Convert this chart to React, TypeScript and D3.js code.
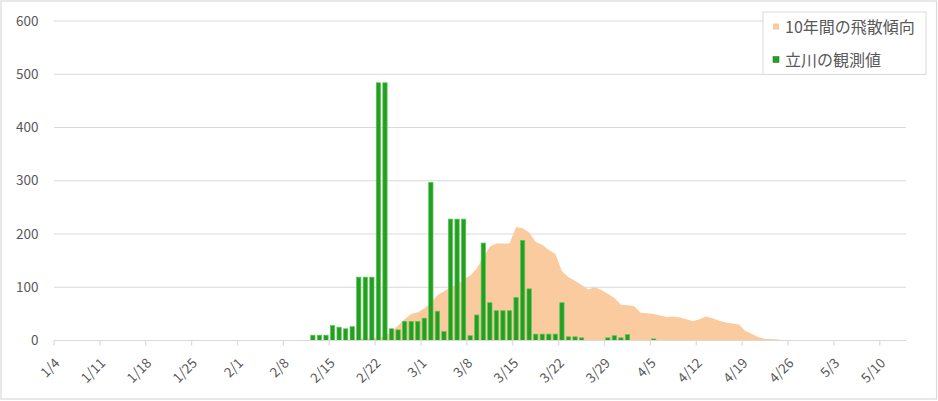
import React from "react";
import * as d3 from "d3";

// ---- data ----
const startDate = new Date(2019, 0, 4); // 1/4 (non-leap year: 2/22 + 7 = 3/1)
const dayCount = 130; // 1/4 .. 5/13

const tickLabels = [
  "1/4", "1/11", "1/18", "1/25", "2/1", "2/8", "2/15", "2/22", "3/1", "3/8",
  "3/15", "3/22", "3/29", "4/5", "4/12", "4/19", "4/26", "5/3", "5/10",
];
const yTicks = [0, 100, 200, 300, 400, 500, 600];

// 10年間の飛散傾向 (daily, starting 2/17)
const trendStart = "2/17";
const trendValues = [
  1, 2, 3, 4, 4, 5, 9, 16, 28, 40, 50, 53, 60, 71, 85, 92, 100, 105, 115, 122,
  135, 157, 176, 182, 182, 182, 213, 211, 203, 185, 180, 170, 163, 130, 119, 112,
  104, 96, 100, 95, 88, 80, 67, 66, 65, 52, 51, 50, 47, 44, 45, 43, 40, 36, 40,
  45, 42, 37, 34, 32, 30, 18, 12, 6, 3, 3, 2, 0,
];

// 立川の観測値 (daily, starting 2/12)
const obsStart = "2/12";
const obsValues: (number | null)[] = [
  10, 10, 10, 28, 25, 22, 26, 119, 119, 119, 484, 484, 22, 20, 36, 36, 36,
  42, 297, 55, 17, 228, 228, 228, 9, 48, 183, 71, 56, 56, 56, 81, 188, 97, 12,
  12, 12, 12, 71, 7, 7, 5, null, null, null, 5, 9, 5,
  11, null, null, null, 3,
];

const seriesNames = ["10年間の飛散傾向", "立川の観測値"];
const seriesColors = ["#FACB9E", "#22A022"];

// ---- derived ----
const fmt = d3.timeFormat("%-m/%-d");
const dates = d3.timeDay.range(startDate, d3.timeDay.offset(startDate, dayCount));
const keys = dates.map(fmt);

function seriesFrom(start: string, vals: (number | null)[]) {
  const m = new Map<string, number | null>();
  const i0 = keys.indexOf(start);
  vals.forEach((v, i) => m.set(keys[i0 + i], v));
  return m;
}
const trendMap = seriesFrom(trendStart, trendValues);
const obsMap = seriesFrom(obsStart, obsValues);

const W = 938;
const H = 401;
const left = 54;
const right = 906;
const yTop = 21;
const yBottom = 340.5;
const FONT = "'Noto Sans CJK JP', 'Noto Sans', sans-serif";
const TEXT = "#595959";
const GRID = "#D9D9D9";

export default function App() {
  const xStep = d3.scaleBand<string>().domain(keys).range([left, right]).padding(0);
  const xBar = d3
    .scaleBand<string>()
    .domain(keys)
    .range([left, right])
    .paddingInner(0.34)
    .paddingOuter(0.17);
  const y = d3.scaleLinear().domain([0, 600]).range([yBottom, yTop]);
  const step = xStep.step();

  const areaData = keys.map((k) => ({ k, v: trendMap.get(k) ?? 0 }));
  const areaGen = d3
    .area<{ k: string; v: number }>()
    .x((d) => (xStep(d.k) as number) + step / 2)
    .y0(y(0))
    .y1((d) => y(d.v));

  const bars = keys
    .map((k) => ({ k, v: obsMap.get(k) }))
    .filter((d) => d.v != null && (d.v as number) > 0) as { k: string; v: number }[];

  return (
    <svg
      width={W}
      height={H}
      style={{ position: "absolute", left: 0, top: 0, background: "#fff" }}
      fontFamily={FONT}
    >
      <rect x={1} y={1} width={935.5} height={398} fill="#fff" stroke={GRID} strokeWidth={1.2} />

      {/* gridlines */}
      {yTicks
        .filter((t) => t > 0)
        .map((t) => (
          <line key={t} x1={left} x2={right} y1={y(t)} y2={y(t)} stroke={GRID} strokeWidth={1.2} />
        ))}

      {/* area */}
      <path d={areaGen(areaData) || ""} fill={seriesColors[0]} />

      {/* bars */}
      {bars.map((d) => (
        <rect
          key={d.k}
          x={xBar(d.k)}
          y={y(d.v)}
          width={xBar.bandwidth()}
          height={y(0) - y(d.v)}
          fill={seriesColors[1]}
          stroke="#62C45A"
          strokeWidth={0.7}
        />
      ))}

      {/* x axis */}
      <line x1={left} x2={right} y1={yBottom} y2={yBottom} stroke={GRID} strokeWidth={1.2} />
      {tickLabels.map((lab) => {
        const x = xStep(lab) as number;
        return (
          <g key={lab}>
            <line x1={x} x2={x} y1={yBottom} y2={yBottom + 5} stroke={GRID} strokeWidth={1.2} />
            <text
              transform={`translate(${x + 6.5},${364}) rotate(-45)`}
              textAnchor="end"
              fontSize={13.5}
              fill={TEXT}
            >
              {lab}
            </text>
          </g>
        );
      })}

      {/* y labels */}
      {yTicks.map((t) => (
        <text key={t} x={38.5} y={y(t) + 4.5} textAnchor="end" fontSize={13.5} fill={TEXT}>
          {t}
        </text>
      ))}

      {/* legend */}
      <rect x={763} y={12} width={163} height={62.5} fill="#fff" stroke={GRID} strokeWidth={1} />
      {seriesNames.map((name, i) => (
        <g key={name} transform={`translate(0,${i * 33})`}>
          <rect x={773} y={23.5} width={6} height={6} fill={seriesColors[i]} stroke={i === 1 ? "#1a7a1a" : "none"} strokeWidth={0.5} />
          <text x={785} y={32.5} fontSize={16} fill={TEXT}>
            {name}
          </text>
        </g>
      ))}
    </svg>
  );
}
